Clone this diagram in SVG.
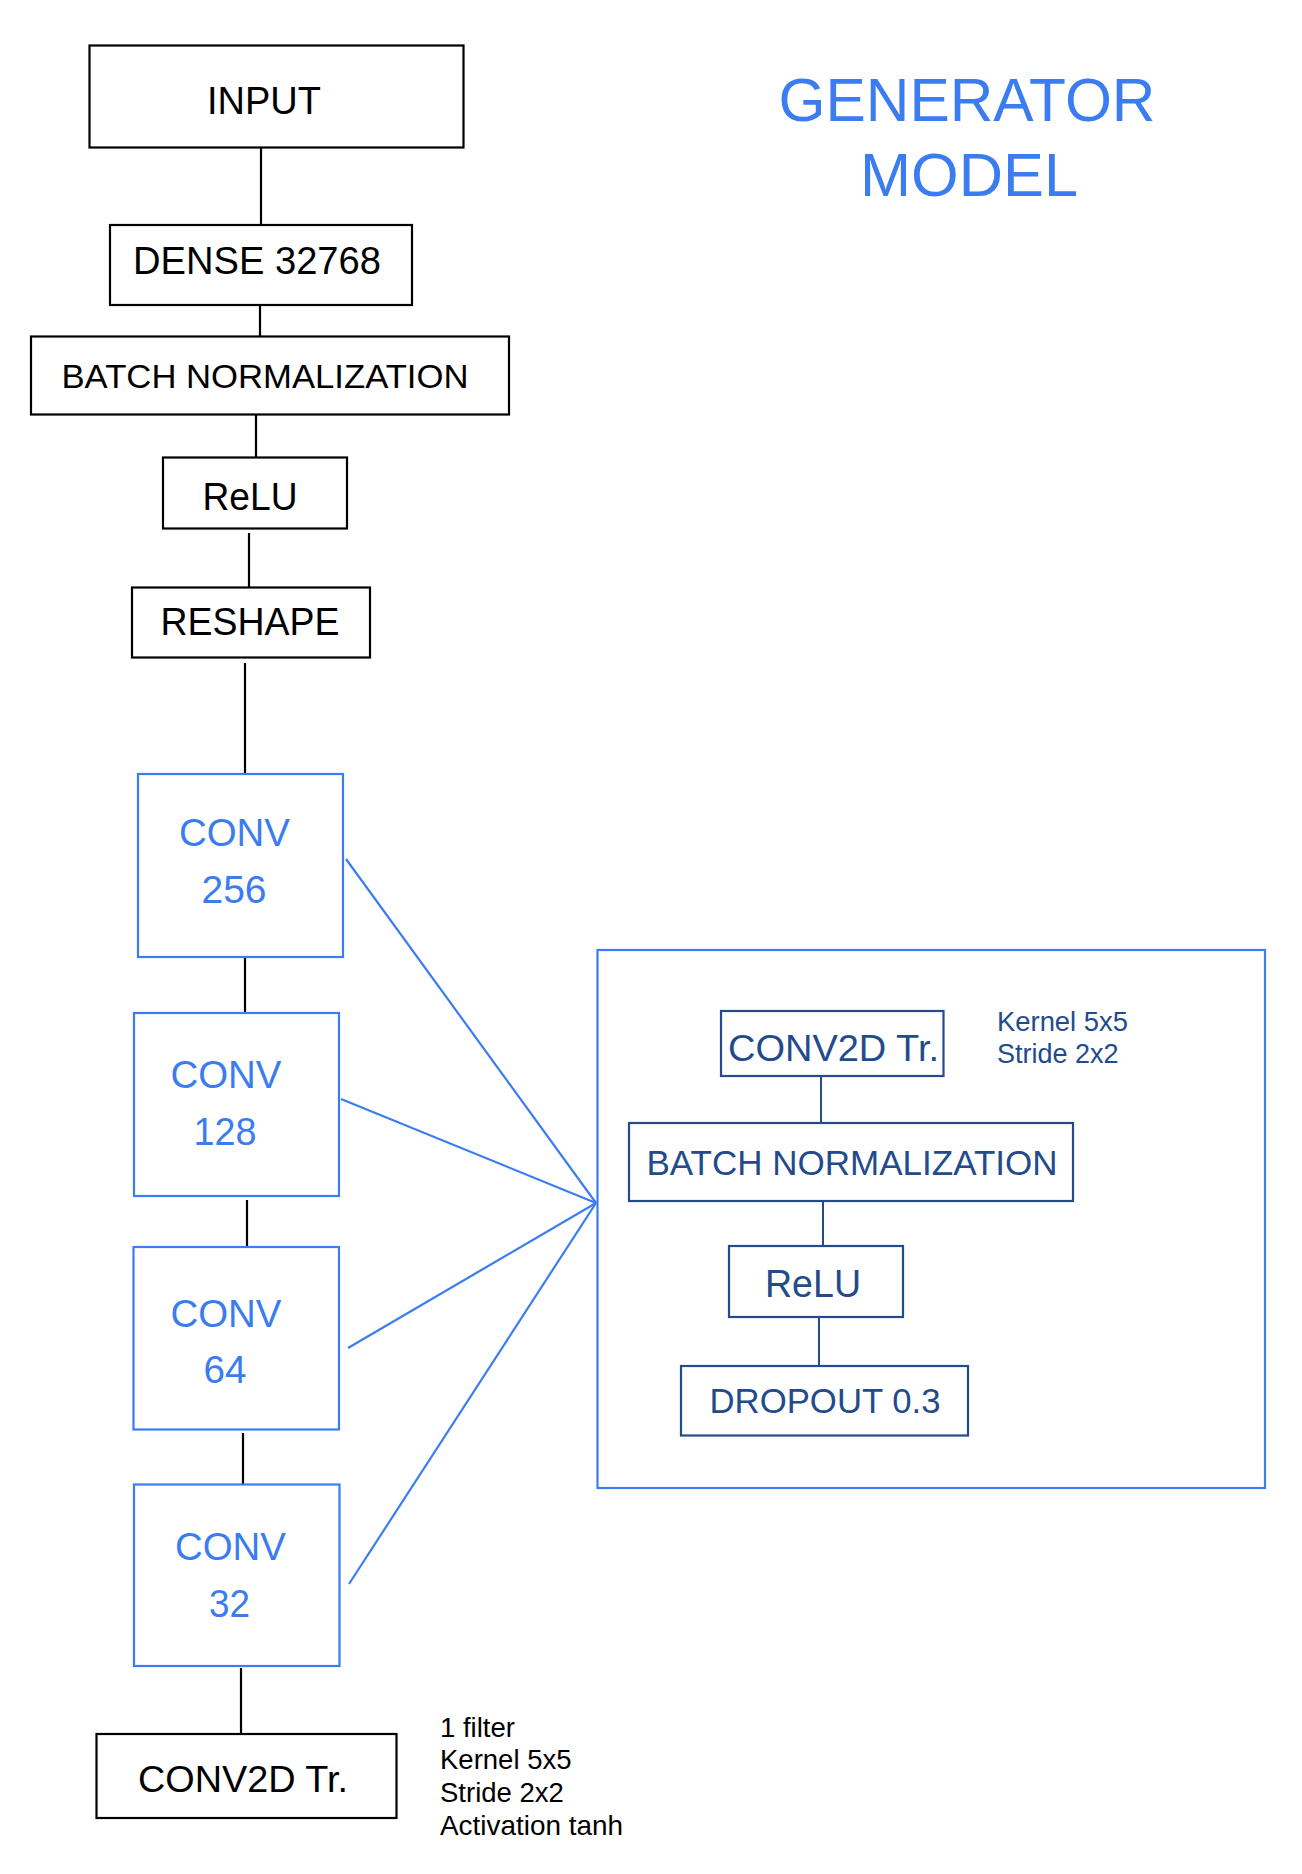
<svg xmlns="http://www.w3.org/2000/svg" width="1302" height="1874" viewBox="0 0 1302 1874">
<style>
.bk{fill:#fff;stroke:#000;stroke-width:2.2}
.bl{fill:#fff;stroke:#3b7df0;stroke-width:2.2}
.frame{fill:none;stroke:#3b7df0;stroke-width:2.2}
.db{fill:#fff;stroke:#234b8c;stroke-width:2.2}
.t{font-family:"Liberation Sans",Arial,sans-serif;text-anchor:middle}
.tb{fill:#000}
.tblue{fill:#3b7df0}
.tdb{fill:#234b8c}
.cb{stroke:#000;stroke-width:2.2;fill:none}
.cd{stroke:#234b8c;stroke-width:2;fill:none}
.cl{stroke:#3b7df0;stroke-width:2.2;fill:none}
.note{font-family:"Liberation Sans",Arial,sans-serif}
</style>
<rect width="1302" height="1874" fill="#fff"/>
<g id="block">
<rect class="frame" x="597.5" y="950" width="667.5" height="538"/>
</g>
<g id="connectors">
<line class="cb" x1="261" y1="148" x2="261" y2="225"/>
<line class="cb" x1="260" y1="305" x2="260" y2="336"/>
<line class="cb" x1="256" y1="414" x2="256" y2="457"/>
<line class="cb" x1="249" y1="533" x2="249" y2="587"/>
<line class="cb" x1="245" y1="663" x2="245" y2="774"/>
<line class="cb" x1="245" y1="957" x2="245" y2="1013"/>
<line class="cb" x1="247" y1="1200" x2="247" y2="1247"/>
<line class="cb" x1="243" y1="1433" x2="243" y2="1484"/>
<line class="cb" x1="241" y1="1668" x2="241" y2="1734"/>
<line class="cl" x1="346" y1="859" x2="596" y2="1203"/>
<line class="cl" x1="341" y1="1099" x2="596" y2="1203"/>
<line class="cl" x1="348" y1="1348" x2="596" y2="1203"/>
<line class="cl" x1="349" y1="1584" x2="596" y2="1203"/>
<line class="cd" x1="821" y1="1076" x2="821" y2="1123"/>
<line class="cd" x1="823" y1="1201" x2="823" y2="1246"/>
<line class="cd" x1="819" y1="1317" x2="819" y2="1366"/>
</g>
<g id="title">
<text class="t tblue" x="967" y="121" font-size="62" textLength="377" lengthAdjust="spacingAndGlyphs">GENERATOR</text>
<text class="t tblue" x="969" y="196" font-size="62" textLength="218" lengthAdjust="spacingAndGlyphs">MODEL</text>
</g>
<g id="input">
<rect class="bk" x="89.5" y="45.5" width="374" height="102"/>
<text class="t tb" x="264" y="114" font-size="39" textLength="114" lengthAdjust="spacingAndGlyphs">INPUT</text>
</g>
<g id="dense">
<rect class="bk" x="110" y="225" width="302" height="80"/>
<text class="t tb" x="257" y="274" font-size="38" textLength="248" lengthAdjust="spacingAndGlyphs">DENSE 32768</text>
</g>
<g id="batchnorm">
<rect class="bk" x="31" y="336.5" width="478" height="78"/>
<text class="t tb" x="265" y="387.5" font-size="34" textLength="407" lengthAdjust="spacingAndGlyphs">BATCH NORMALIZATION</text>
</g>
<g id="relu">
<rect class="bk" x="163" y="457.5" width="184" height="71"/>
<text class="t tb" x="250" y="510" font-size="38" textLength="95" lengthAdjust="spacingAndGlyphs">ReLU</text>
</g>
<g id="reshape">
<rect class="bk" x="132" y="587.5" width="238" height="70"/>
<text class="t tb" x="250" y="635" font-size="38" textLength="179" lengthAdjust="spacingAndGlyphs">RESHAPE</text>
</g>
<g id="conv256">
<rect class="bl" x="138" y="774" width="205" height="183"/>
<text class="t tblue" x="234.5" y="846" font-size="39" textLength="111" lengthAdjust="spacingAndGlyphs">CONV</text>
<text class="t tblue" x="234" y="903" font-size="39" textLength="65" lengthAdjust="spacingAndGlyphs">256</text>
</g>
<g id="conv128">
<rect class="bl" x="134" y="1013" width="205" height="183"/>
<text class="t tblue" x="226" y="1088" font-size="39" textLength="111" lengthAdjust="spacingAndGlyphs">CONV</text>
<text class="t tblue" x="225" y="1145" font-size="39" textLength="63" lengthAdjust="spacingAndGlyphs">128</text>
</g>
<g id="conv64">
<rect class="bl" x="133.5" y="1247" width="205.5" height="182.5"/>
<text class="t tblue" x="226" y="1327" font-size="39" textLength="111" lengthAdjust="spacingAndGlyphs">CONV</text>
<text class="t tblue" x="225" y="1383" font-size="39" textLength="43" lengthAdjust="spacingAndGlyphs">64</text>
</g>
<g id="conv32">
<rect class="bl" x="134" y="1484.5" width="205.5" height="181.5"/>
<text class="t tblue" x="230.5" y="1560" font-size="39" textLength="111" lengthAdjust="spacingAndGlyphs">CONV</text>
<text class="t tblue" x="229.5" y="1617" font-size="39" textLength="41" lengthAdjust="spacingAndGlyphs">32</text>
</g>
<g id="conv2d-out">
<rect class="bk" x="96.5" y="1734" width="300" height="84"/>
<text class="t tb" x="243" y="1792" font-size="37" textLength="210" lengthAdjust="spacingAndGlyphs">CONV2D Tr.</text>
<text class="note" x="440" y="1737" font-size="27.5" fill="#000">1 filter</text>
<text class="note" x="440" y="1769" font-size="27.5" fill="#000">Kernel 5x5</text>
<text class="note" x="440" y="1802" font-size="27.5" fill="#000">Stride 2x2</text>
<text class="note" x="440" y="1835" font-size="27.5" fill="#000" textLength="183" lengthAdjust="spacingAndGlyphs">Activation tanh</text>
</g>
<g id="block-conv2d">
<rect class="db" x="721" y="1011" width="222.5" height="65"/>
<text class="t tdb" x="833.5" y="1060.5" font-size="37" textLength="211" lengthAdjust="spacingAndGlyphs">CONV2D Tr.</text>
<text class="note" x="997" y="1031" font-size="27" fill="#234b8c" textLength="131" lengthAdjust="spacingAndGlyphs">Kernel 5x5</text>
<text class="note" x="997" y="1063" font-size="27" fill="#234b8c">Stride 2x2</text>
</g>
<g id="block-batchnorm">
<rect class="db" x="629" y="1123" width="444" height="78"/>
<text class="t tdb" x="852" y="1174.5" font-size="34.5" textLength="411" lengthAdjust="spacingAndGlyphs">BATCH NORMALIZATION</text>
</g>
<g id="block-relu">
<rect class="db" x="729" y="1246" width="174" height="71"/>
<text class="t tdb" x="813" y="1297" font-size="38" textLength="96" lengthAdjust="spacingAndGlyphs">ReLU</text>
</g>
<g id="block-dropout">
<rect class="db" x="681" y="1366" width="287" height="69.5"/>
<text class="t tdb" x="825" y="1413" font-size="34.7" textLength="231" lengthAdjust="spacingAndGlyphs">DROPOUT 0.3</text>
</g>
</svg>
